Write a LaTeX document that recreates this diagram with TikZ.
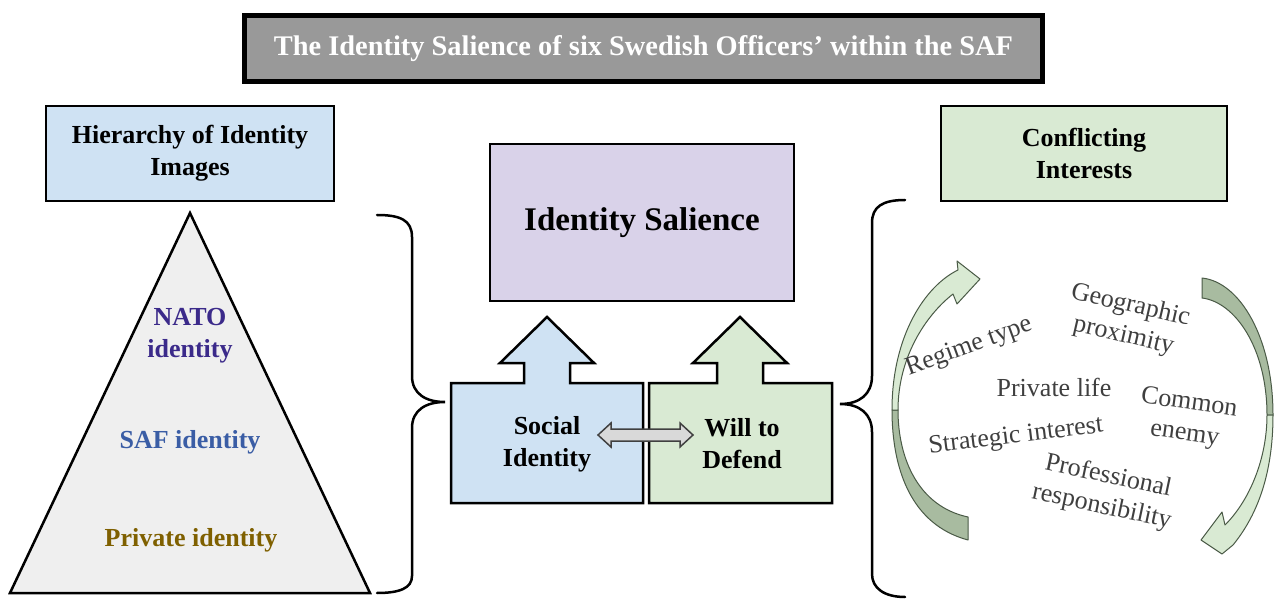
\documentclass[tikz,border=0pt]{standalone}
\usepackage{fontspec}
\setmainfont{Liberation Serif}
\usetikzlibrary{calc}
\definecolor{titlegray}{HTML}{999999}
\definecolor{blueL}{HTML}{CFE2F3}
\definecolor{greenL}{HTML}{D9EAD3}
\definecolor{lavL}{HTML}{D9D2E9}
\definecolor{triF}{HTML}{EFEFEF}
\definecolor{natoC}{HTML}{3B2A8A}
\definecolor{safC}{HTML}{3A5DA5}
\definecolor{privC}{HTML}{7F6000}
\definecolor{wordC}{HTML}{3F3F3F}
\definecolor{arrDark}{HTML}{A8BBA0}
\definecolor{arrLine}{HTML}{4A5A46}
\definecolor{dblF}{HTML}{D9D9D9}
\begin{document}
\begin{tikzpicture}[x=1pt,y=1pt,
  hdr/.style={draw=black, line width=2.5pt, inner sep=0pt, align=center,
    font=\bfseries\fontsize{26}{32}\selectfont},
  lbl/.style={align=center, font=\bfseries\fontsize{26}{32}\selectfont},
  word/.style={align=center, text=wordC, font=\fontsize{26}{31}\selectfont, inner sep=0pt},
  brace/.style={draw=black, line width=2.5pt, line cap=round},
  blockshape/.style={draw=black, line width=2.5pt, line join=miter},
  curvy/.style={draw=arrLine, line width=1pt, line join=round},
  dblshape/.style={draw=black!75, line width=1.5pt, fill=dblF, line join=miter}
]
\useasboundingbox (0,0) rectangle (1275,598);

% title
\node[draw=black, line width=5pt, fill=titlegray, minimum width=798pt, minimum height=66pt,
  inner sep=0pt, text=white, font=\bfseries\fontsize{28.4}{32}\selectfont]
  (title) at (643.5,549.5) {The Identity Salience of six Swedish Officers’ within the SAF};

% header boxes
\node[hdr, fill=blueL, minimum width=288pt, minimum height=95pt] (hier) at (190,444.5)
  {Hierarchy of Identity\\Images};
\node[hdr, fill=greenL, minimum width=286pt, minimum height=95pt] (confl) at (1084,444.5)
  {Conflicting\\Interests};
\node[hdr, fill=lavL, minimum width=304pt, minimum height=157pt,
  font=\bfseries\fontsize{33}{38}\selectfont] (sal) at (642,375.5) {Identity Salience};

% triangle
\draw[fill=triF, line width=2.5pt, line join=miter] (190,385) -- (370,5) -- (10,5) -- cycle;
\node[lbl, text=natoC] (nato) at (190,262) {NATO\\identity};
\node[lbl, text=safC] (saf) at (190,156) {SAF identity};
\node[lbl, text=privC] (priv) at (191,58) {Private identity};

% left brace
\draw[brace] (377,383) .. controls (400,383) and (412,378) .. (412,361) -- (412,222)
  .. controls (412,204) and (426,196) .. (445,196)
  .. controls (426,196) and (412,188) .. (412,170) -- (412,22)
  .. controls (412,10) and (400,5) .. (377,5);

% right brace
\draw[brace] (905,398) .. controls (882,398) and (872,391) .. (872,375) -- (872,222)
  .. controls (872,204) and (860,194) .. (840,194)
  .. controls (860,194) and (872,184) .. (872,166) -- (872,24)
  .. controls (872,10) and (884,1) .. (905,1);

% arrow blocks
\draw[blockshape, fill=blueL] (451,95) -- (643,95) -- (643,215) -- (570,215) -- (570,235)
  -- (594,235) -- (547,281) -- (500,235) -- (524,235) -- (524,215) -- (451,215) -- cycle;
\draw[blockshape, fill=greenL] (649,95) -- (832,95) -- (832,215) -- (763,215) -- (763,235)
  -- (787,235) -- (740,281) -- (693,235) -- (717,235) -- (717,215) -- (649,215) -- cycle;
\node[lbl] (soc) at (547,154) {Social\\Identity};
\node[lbl] (will) at (742,154) {Will to\\Defend};

% double arrow between the two blocks
\coordinate (dL) at (598,163);
\coordinate (dR) at (693,163);
\draw[dblshape] (dL) -- ++(13,12) -- ++(0,-6) -- ($(dR)+(-13,6)$) -- ++(0,6) -- (dR)
  -- ++(-13,-12) -- ++(0,6) -- ($(dL)+(13,-6)$) -- ++(0,-6) -- cycle;

% left curved arrow
\path[curvy, fill=arrDark] (892,188) to[out=-90,in=165] (968,58) -- (968,81)
  to[out=168,in=-90] (898,188) -- cycle;
\path[curvy, fill=greenL] (892,188) .. controls (892,262) and (925,312) .. (958,328)
  -- (957,337) -- (980,319) -- (957,294) -- (953,304)
  .. controls (925,282) and (898,240) .. (898,188) -- cycle;

% right curved arrow
\path[curvy, fill=arrDark] (1202,320) .. controls (1240,316) and (1273,260) .. (1273,183)
  -- (1267,183) .. controls (1267,250) and (1235,296) .. (1202,300) -- cycle;
\path[curvy, fill=greenL] (1273,183) .. controls (1273,120) and (1255,80) .. (1233,53)
  -- (1222,44) -- (1201,58) -- (1222,86) -- (1225,73)
  .. controls (1250,98) and (1267,140) .. (1267,183) -- cycle;

% interests
\node[word, rotate=20] (regime) at (969,251) {Regime type};
\node[word, rotate=-13] (geo) at (1127,277) {Geographic\\proximity};
\node[word] (privlife) at (1054,211) {Private life};
\node[word, rotate=-8] (common) at (1187,179) {Common\\enemy};
\node[word, rotate=7] (strat) at (1016,161) {Strategic interest};
\node[word, rotate=-12] (prof) at (1105,106) {Professional\\responsibility};
\end{tikzpicture}
\end{document}
